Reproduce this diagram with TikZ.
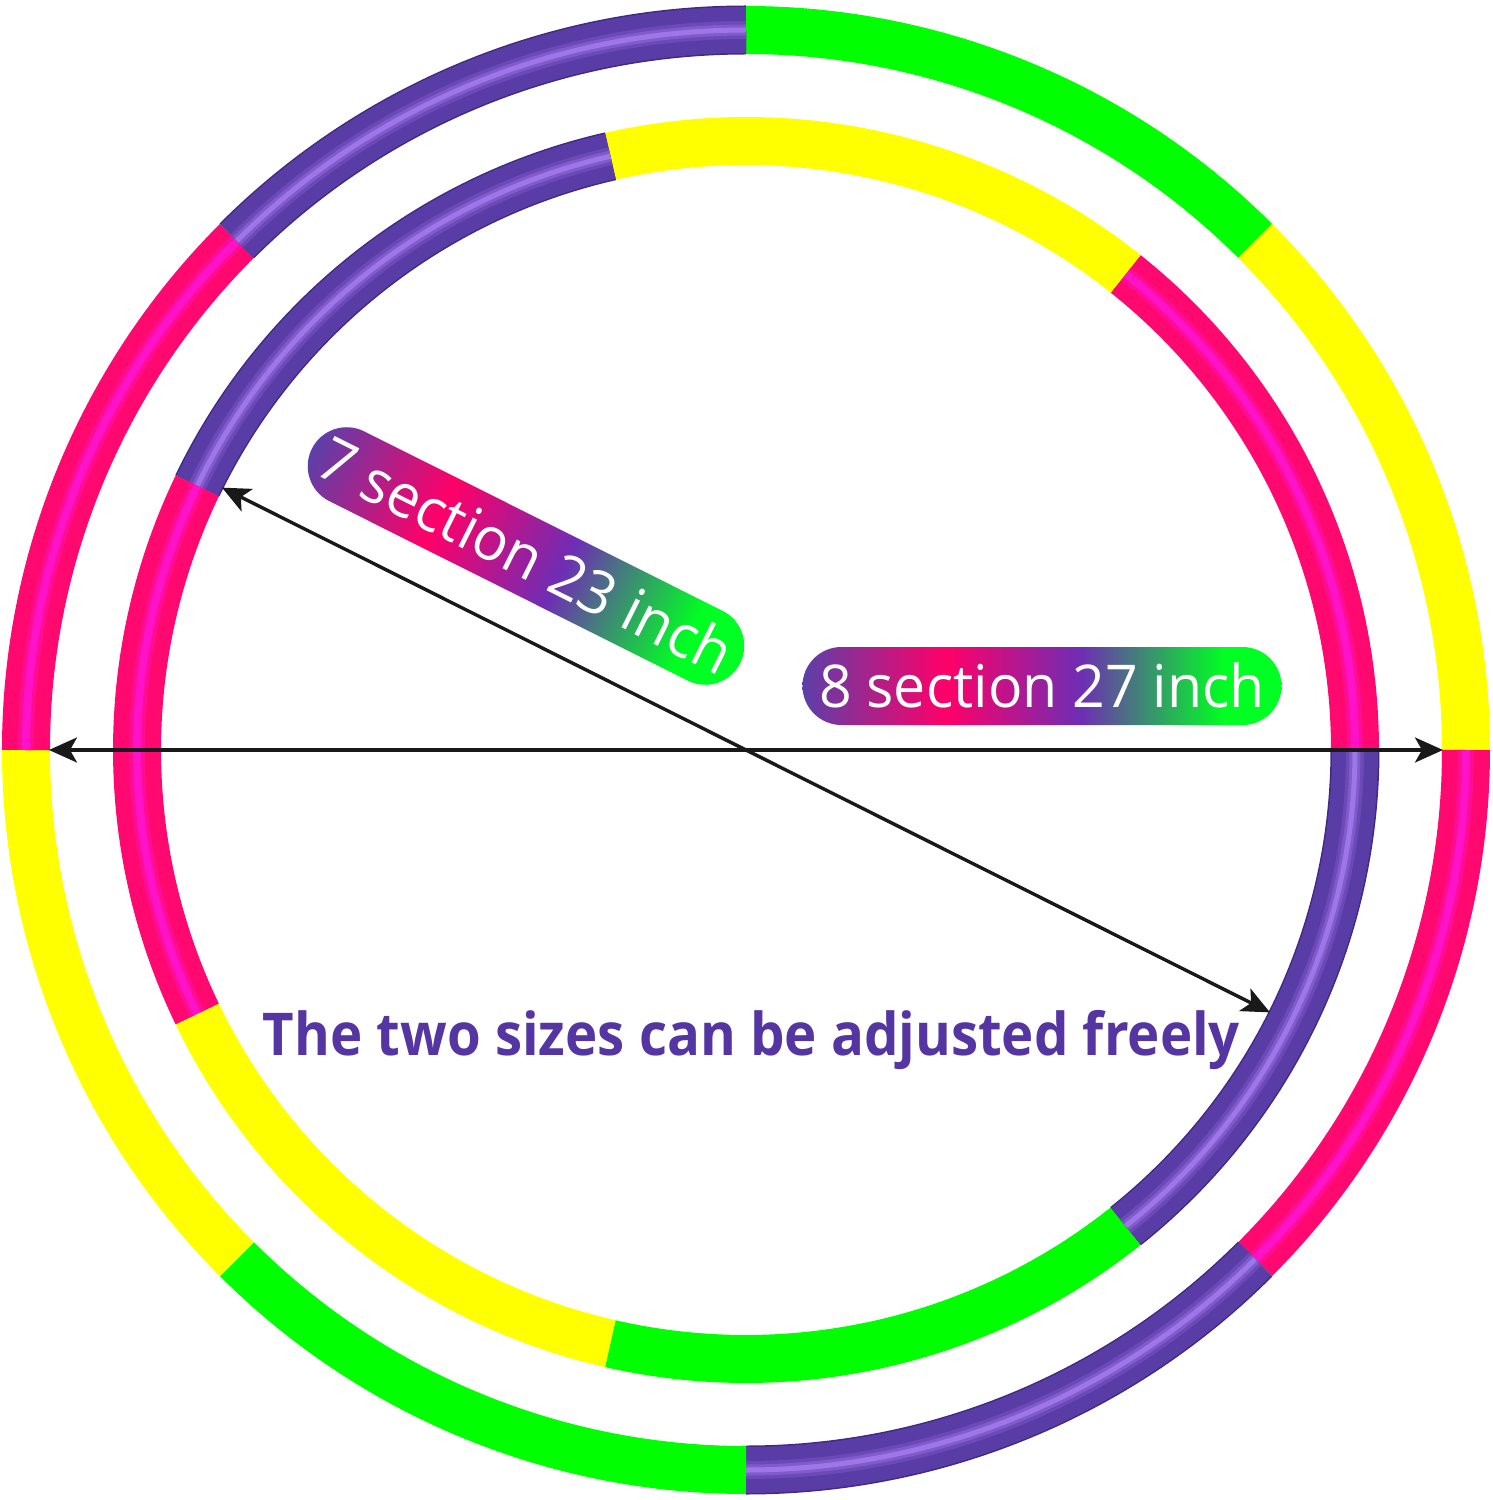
\documentclass[tikz,border=0pt]{standalone}
\usepackage{fontspec}
\setmainfont{Open Sans}
\newfontfamily\pillfont{Open Sans}[FakeStretch=0.97]
\newfontfamily\notefont{Open Sans}[FakeStretch=0.925]
\usetikzlibrary{arrows.meta}
\definecolor{rpurple}{HTML}{5A3CA6}
\definecolor{rpurpleE}{HTML}{402A82}
\definecolor{rpurpleH}{HTML}{9E76EA}
\definecolor{rpink}{HTML}{FF0870}
\definecolor{rpinkH}{HTML}{FF12C8}
\definecolor{ryellow}{HTML}{FFFF00}
\definecolor{rgreen}{HTML}{00FF00}
\definecolor{txtpurple}{HTML}{5535A2}
\definecolor{gpurple}{HTML}{5B40A8}
\definecolor{gpink}{HTML}{FF0068}
\definecolor{gmid}{HTML}{6E2DB4}
\definecolor{ggreen}{HTML}{00FF22}
\pgfdeclarehorizontalshading{pillgrad}{100bp}{color(0bp)=(gpurple); color(25bp)=(gpurple); color(40bp)=(gpink); color(54bp)=(gmid); color(69bp)=(ggreen); color(75bp)=(ggreen); color(100bp)=(ggreen)}
\newcommand\segflat[4]{\draw[line width=48pt,#4] (#2:#1) arc[start angle=#2,end angle=#3,radius=#1];}
\newcommand\segpurple[3]{%
  \draw[line width=49pt,rpurpleE] (#2:#1) arc[start angle=#2,end angle=#3,radius=#1];
  \draw[line width=46pt,rpurple] (#2:#1) arc[start angle=#2,end angle=#3,radius=#1];
  \draw[line width=18pt,rpurple!75!rpurpleH] (#2:#1) arc[start angle=#2,end angle=#3,radius=#1];
  \draw[line width=11pt,rpurple!45!rpurpleH] (#2:#1) arc[start angle=#2,end angle=#3,radius=#1];
  \draw[line width=5pt,rpurpleH] (#2:#1) arc[start angle=#2,end angle=#3,radius=#1];}
\newcommand\segpink[3]{%
  \draw[line width=48pt,rpink] (#2:#1) arc[start angle=#2,end angle=#3,radius=#1];
  \draw[line width=16pt,rpink!60!rpinkH] (#2:#1) arc[start angle=#2,end angle=#3,radius=#1];
  \draw[line width=8pt,rpinkH] (#2:#1) arc[start angle=#2,end angle=#3,radius=#1];}
\tikzset{
  x=1pt,y=1pt,
  dimarrow/.style={line width=3.4pt,black!90,{Stealth[length=28pt,width=25pt,inset=7pt]}-{Stealth[length=28pt,width=25pt,inset=7pt]}},
  pill/.style={shading=pillgrad,rounded corners=39pt,minimum width=479pt,minimum height=78pt,inner sep=0pt,text=white,text height=43pt,text depth=0pt},
}
\begin{document}
\begin{tikzpicture}
\useasboundingbox[fill=white] (-746,-750) rectangle (746,750);
% outer ring (8 sections)
\segflat{720}{90}{45}{rgreen}
\segflat{720}{45}{0}{ryellow}
\segpink{720}{0}{-45}
\segpurple{720}{-45}{-90}
\segflat{720}{-90}{-135}{rgreen}
\segflat{720}{-135}{-180}{ryellow}
\segpink{720}{180}{135}
\segpurple{720}{135}{90}
% inner ring (7 sections)
\segpink{609}{0}{51.43}
\segflat{609}{51.43}{102.86}{ryellow}
\segpurple{609}{102.86}{154.29}
\segpink{609}{154.29}{205.71}
\segflat{609}{205.71}{257.14}{ryellow}
\segflat{609}{257.14}{308.57}{rgreen}
\segpurple{609}{308.57}{360}
% arrows
\coordinate (hl) at (180:697);
\coordinate (hr) at (0:697);
\coordinate (dl) at (153.4:586);
\coordinate (dr) at (-26.6:586);
\draw[dimarrow] (hl) -- (hr);
\draw[dimarrow] (dl) -- (dr);
% labels
\node[pill,font=\pillfont\fontsize{59}{70}\selectfont] (p8) at (296,64) {8 section 27 inch};
\begin{scope}[transform canvas={rotate around={-26.6:(-220,194)}}]
\node[pill,font=\pillfont\fontsize{60}{72}\selectfont] (p7) at (-220,194) {7 section 23 inch};
\end{scope}
\node[anchor=base,text=txtpurple,font=\notefont\fontsize{59}{70}\bfseries\selectfont,inner sep=0pt] (note) at (5.5,-305) {The two sizes can be adjusted freely};
\end{tikzpicture}
\end{document}
